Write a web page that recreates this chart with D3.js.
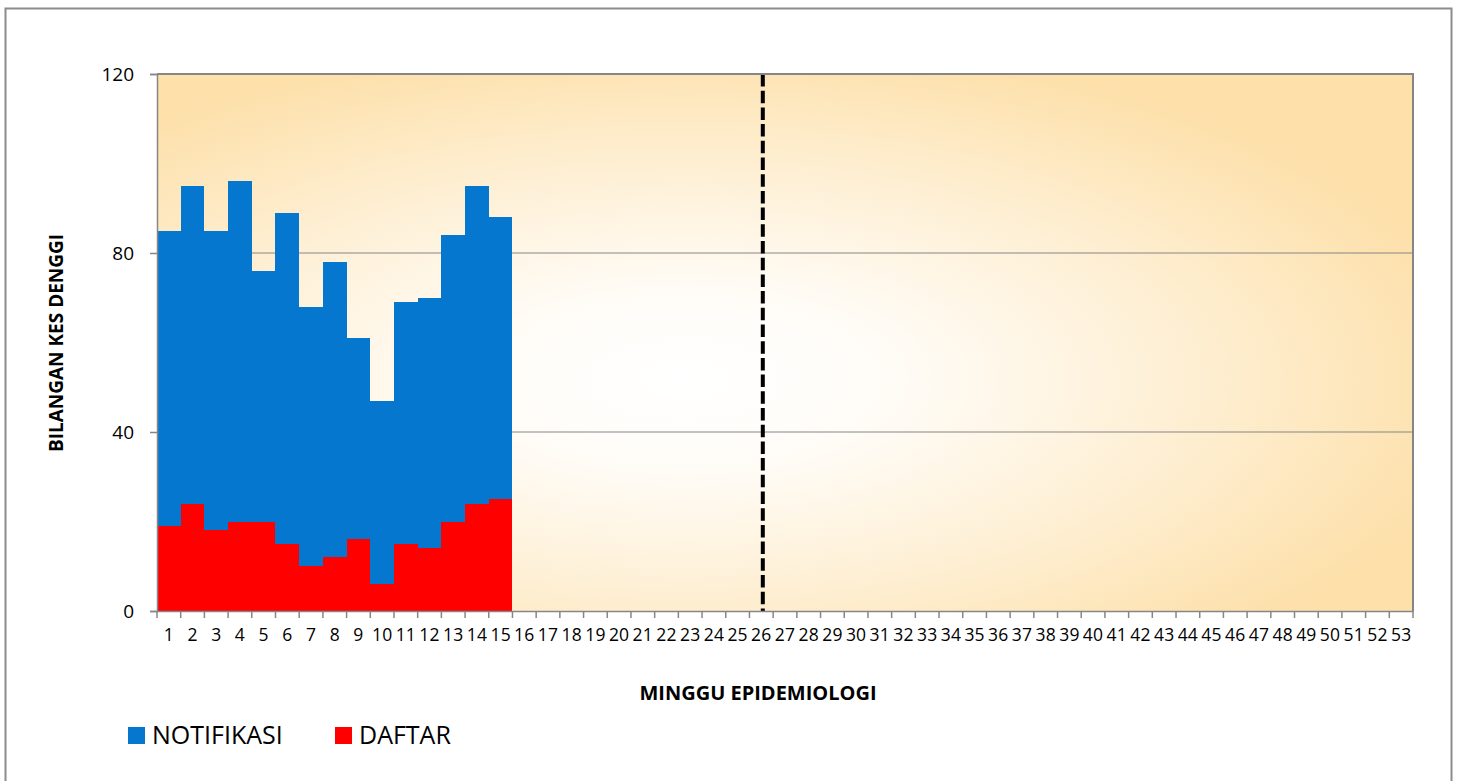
<!DOCTYPE html>
<html>
<head>
<meta charset="utf-8">
<script src="https://cdn.jsdelivr.net/npm/d3@7"></script>
<style>
  body { margin: 0; background: #fff; }
  text { font-family: "Open Sans", "Noto Sans", sans-serif; fill: #000; }
</style>
</head>
<body>
<div id="chart"></div>
<script>
// data
const weeks = d3.range(1, 54);
const notifikasi = [85, 95, 85, 96, 76, 89, 68, 78, 61, 47, 69, 70, 84, 95, 88];
const daftar = [19, 24, 18, 20, 20, 15, 10, 12, 16, 6, 15, 14, 20, 24, 25];
const yTicks = [0, 40, 80, 120];
const midYearWeek = 26;
const seriesNames = ["NOTIFIKASI", "DAFTAR"];
const seriesColors = ["#0677cf", "#ff0000"];

const width = 1457, height = 781;
const plot = { left: 157, right: 1413, top: 74, bottom: 611 };

const svg = d3.select("#chart").append("svg")
    .attr("width", width)
    .attr("height", height);

// outer frame
svg.append("rect")
    .attr("x", 5.5).attr("y", 8.5)
    .attr("width", 1446).attr("height", 785)
    .attr("fill", "#fff")
    .attr("stroke", "#8c8c8c")
    .attr("stroke-width", 2);

// background gradient of plot area
const defs = svg.append("defs");
const grad = defs.append("radialGradient")
    .attr("id", "bg")
    .attr("cx", 0.42).attr("cy", 0.57)
    .attr("fx", 0.42).attr("fy", 0.57)
    .attr("r", 0.64);
grad.append("stop").attr("offset", "0%").attr("stop-color", "#ffffff");
grad.append("stop").attr("offset", "25%").attr("stop-color", "#fffcf7");
grad.append("stop").attr("offset", "60%").attr("stop-color", "#fef0d6");
grad.append("stop").attr("offset", "100%").attr("stop-color", "#fde0aa");

const x = d3.scaleBand()
    .domain(weeks)
    .range([plot.left, plot.right])
    .padding(0);

const y = d3.scaleLinear()
    .domain([0, 120])
    .range([plot.bottom, plot.top]);

svg.append("rect")
    .attr("x", plot.left).attr("y", plot.top)
    .attr("width", plot.right - plot.left)
    .attr("height", plot.bottom - plot.top)
    .attr("fill", "url(#bg)");

// gridlines
svg.append("g")
  .selectAll("line")
  .data(yTicks.filter(d => d > 0 && d < 120))
  .join("line")
    .attr("x1", plot.left).attr("x2", plot.right)
    .attr("y1", d => y(d)).attr("y2", d => y(d))
    .attr("stroke", "#868686")
    .attr("stroke-width", 1);

// notifikasi (behind) and daftar (front)
svg.append("g")
  .selectAll("rect")
  .data(notifikasi)
  .join("rect")
    .attr("x", (d, i) => x(weeks[i]))
    .attr("width", x.bandwidth())
    .attr("y", d => y(d))
    .attr("height", d => y(0) - y(d))
    .attr("fill", seriesColors[0])
    .attr("shape-rendering", "crispEdges");

svg.append("g")
  .selectAll("rect")
  .data(daftar)
  .join("rect")
    .attr("x", (d, i) => x(weeks[i]))
    .attr("width", x.bandwidth())
    .attr("y", d => y(d))
    .attr("height", d => y(0) - y(d))
    .attr("fill", seriesColors[1])
    .attr("shape-rendering", "crispEdges");

// mid-year dashed line
svg.append("line")
    .attr("x1", x(midYearWeek) + x.bandwidth() / 2 + 1.5)
    .attr("x2", x(midYearWeek) + x.bandwidth() / 2 + 1.5)
    .attr("y1", plot.top)
    .attr("y2", plot.bottom)
    .attr("stroke", "#000")
    .attr("stroke-width", 4)
    .attr("stroke-dasharray", "12.5,4.2");

// plot border top + right
svg.append("path")
    .attr("d", `M${plot.left},${plot.top}H${plot.right}V${plot.bottom}`)
    .attr("fill", "none")
    .attr("stroke", "#868686")
    .attr("stroke-width", 2);

// y axis
const yAxis = svg.append("g")
    .attr("transform", `translate(${plot.left},0)`)
    .call(d3.axisLeft(y).tickValues(yTicks).tickSize(7).tickPadding(16));
yAxis.select(".domain").attr("stroke", "#868686").attr("stroke-width", 1.5);
yAxis.selectAll(".tick line").attr("stroke", "#868686").attr("stroke-width", 1.5);
yAxis.selectAll(".tick text").style("font-size", "19px");

// x axis: labels centred in bands, ticks at band edges
const xAxis = svg.append("g")
    .attr("transform", `translate(0,${plot.bottom})`)
    .call(d3.axisBottom(x).tickSize(0).tickPadding(18));
xAxis.select(".domain").attr("stroke", "#868686").attr("stroke-width", 1.5);
xAxis.selectAll(".tick text")
    .style("font-size", "17.5px")
    .style("letter-spacing", "0.2px");

svg.append("g")
  .selectAll("line")
  .data(weeks.map(w => x(w)).concat([plot.right]))
  .join("line")
    .attr("x1", d => d).attr("x2", d => d)
    .attr("y1", plot.bottom).attr("y2", plot.bottom + 7)
    .attr("stroke", "#868686")
    .attr("stroke-width", 1.5);

// axis titles
svg.append("text")
    .attr("transform", `translate(63,${(233 + 453) / 2}) rotate(-90)`)
    .attr("text-anchor", "middle")
    .style("font-size", "19px")
    .style("font-weight", "bold")
    .text("BILANGAN KES DENGGI");

svg.append("text")
    .attr("x", 758)
    .attr("y", 700)
    .attr("text-anchor", "middle")
    .style("font-size", "20px")
    .style("font-weight", "bold")
    .text("MINGGU EPIDEMIOLOGI");

// legend
const legendX = [128, 335];
const legend = svg.append("g")
  .selectAll("g")
  .data(seriesNames)
  .join("g")
    .attr("transform", (d, i) => `translate(${legendX[i]},727)`);
legend.append("rect")
    .attr("width", 17).attr("height", 17)
    .attr("fill", (d, i) => seriesColors[i]);
legend.append("text")
    .attr("x", 24)
    .attr("y", 17)
    .style("font-size", "25px")
    .text(d => d);
</script>
</body>
</html>
